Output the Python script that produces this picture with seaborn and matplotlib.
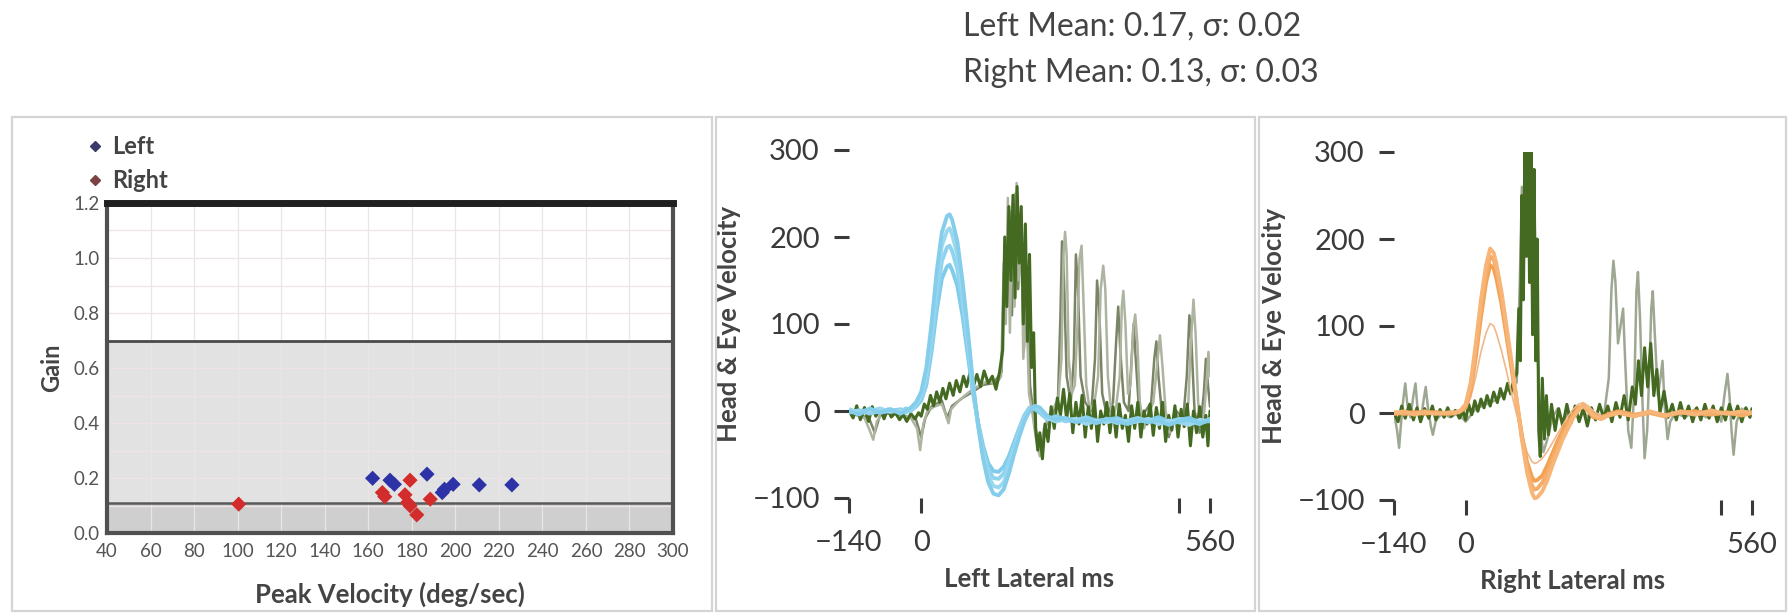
import numpy as np
import pandas as pd
import matplotlib.pyplot as plt
import matplotlib.patches as mpatches
from matplotlib.lines import Line2D
import seaborn as sns

# ---- data ----
# scatter: peak velocity (deg/sec) vs gain
left_vel = [162, 170, 172, 187, 194, 195, 199, 211, 226]
left_gain = [0.199, 0.192, 0.177, 0.214, 0.147, 0.159, 0.177, 0.175, 0.175]
right_vel = [100.5, 166.5, 167.6, 179.2, 176.9, 178.1, 179.2, 182.3, 188.5]
right_gain = [0.105, 0.147, 0.132, 0.192, 0.139, 0.111, 0.099, 0.066, 0.123]

stats_lines = ['Left Mean: 0.17, σ: 0.02', 'Right Mean: 0.13, σ: 0.03']

# left lateral impulses: head velocity (blue), same time base
head_t_left = [-140, -120, -100, -80, -60, -40, -30, -20, -10, 0, 10, 20, 30, 40, 50, 55, 60, 70, 80, 90,
               100, 110, 120, 130, 140, 150, 160, 170, 180, 190, 200, 210, 220, 230, 245, 260, 280, 300, 320,
               340, 360, 380, 400, 420, 440, 460, 480, 500, 520, 540, 560]
head_left_1 = [0, -4, 3, -2, 2, -3, 0, 4, 10, 22, 50, 100, 160, 205, 224, 226, 220, 195, 150, 95, 35, -15, -55,
               -82, -95, -97, -90, -72, -50, -30, -12, 0, 6, 4, -6, -10, -8, -13, -10, -14, -9, -12, -15, -10, -13,
               -11, -16, -12, -10, -14, -11]
head_left_2 = [2, -2, 0, 3, -1, 1, -2, 2, 8, 18, 42, 90, 148, 190, 207, 210, 203, 180, 138, 85, 30, -15, -50,
               -75, -86, -88, -82, -66, -46, -27, -10, 2, 5, 2, -8, -12, -10, -9, -15, -11, -13, -10, -14, -12, -9,
               -15, -11, -13, -16, -10, -12]
head_left_3 = [-2, 1, -3, 0, 2, -1, 3, 0, 6, 15, 35, 78, 130, 172, 188, 190, 184, 163, 125, 76, 26, -14, -45,
               -67, -77, -78, -72, -58, -40, -22, -6, 3, 4, 0, -9, -7, -12, -10, -8, -13, -9, -14, -11, -8, -12,
               -10, -13, -9, -12, -15, -9]
head_left_4 = [1, -1, 2, -2, 0, 2, -1, 1, 5, 12, 30, 68, 115, 152, 166, 168, 162, 144, 110, 66, 22, -12, -40,
               -60, -69, -70, -64, -52, -36, -20, -5, 4, 2, -2, -10, -6, -9, -12, -7, -11, -10, -8, -13, -9, -11,
               -7, -12, -10, -8, -13, -10]

# left lateral: eye velocity (dark green)
eye_left_t = [-140, -132, -125, -118, -110, -102, -95, -88, -80, -72, -65, -58, -50, -42, -35, -28, -20, -12, -5,
              0, 6, 12, 18, 24, 30, 36, 42, 48, 55, 62, 68, 75, 82, 88, 95, 102, 108, 115, 122, 130, 138, 145,
              152, 158, 162, 166, 170, 174, 178, 182, 186, 190, 194, 198, 202, 206, 210, 214, 218, 222, 226, 230,
              235, 240, 246, 252, 258, 264, 270, 276, 282, 288, 294, 300, 306, 312, 318, 324, 330, 336, 342, 348,
              354, 360, 366, 372, 378, 384, 390, 396, 402, 408, 414, 420, 426, 432, 438, 444, 450, 456, 462, 468,
              474, 480, 486, 492, 498, 504, 510, 516, 522, 528, 534, 540, 546, 552, 556, 560]
eye_left_v = [0, -8, 6, -10, 4, -12, 5, -6, 3, -9, 2, -7, -2, -10, -4, -12, -3, -9, -2,
              -6, 8, 2, 18, 6, 22, 10, 26, 14, 32, 18, 35, 22, 40, 28, 45, 30, 42, 28, 46, 32, 40, 25,
              45, 70, 200, 120, 235, 150, 248, 130, 258, 170, 235, 100, 215, 80, 180, 50, 90, -20, -45, -25,
              -55, -15, -35, 5, -20, 15, -5, 25, -10, 20, -25, 10, -15, 18, -30, 5, -20, 12, -35, 0,
              -15, 10, -25, 5, -30, 8, -20, -5, -35, 6, -20, 10, -30, 0, -15, 8, -28, 4, -20, 10,
              -35, -5, -22, 6, -30, 2, -18, 8, -40, 0, -25, 5, -30, -5, -40, 0]

# left lateral: eye velocity of the other impulses (grey olive)
eye_left_g1_t = [-140, -125, -110, -100, -93, -86, -75, -60, -40, -20, -8, -2, 4, 12, 25, 40, 48, 53, 58, 70, 85,
                 100, 115, 130, 145, 155, 160, 164, 168, 172, 177, 181, 185, 189, 194, 198, 204, 209, 215, 222,
                 230, 238, 248, 258, 266, 272, 276, 279, 282, 286, 292, 298, 303, 307, 311, 315, 320, 327, 336,
                 343, 348, 353, 357, 362, 370, 378, 385, 389, 392, 396, 401, 406, 411, 415, 419, 424, 432, 440,
                 450, 457, 463, 468, 474, 482, 490, 500, 510, 518, 523, 528, 532, 537, 543, 549, 554, 557, 560]
eye_left_g1_v = [0, -5, -8, -22, -33, -12, -2, 0, -4, -8, -20, -45, -15, 0, 5, 8, -5, -14, 2, 10, 18,
                 25, 30, 35, 30, 40, 170, 100, 245, 90, 238, 120, 262, 150, 220, 60, 120, 20, 0, -30,
                 -52, -20, -5, 5, 15, 60, 180, 206, 180, 60, 20, 30, 100, 175, 190, 120, 30, 0, 10,
                 40, 140, 167, 140, 40, -10, 5, 40, 120, 138, 100, 20, 30, 95, 111, 80, 10, -20, -5,
                 10, 50, 87, 50, 0, -25, -10, -5, -15, 10, 80, 128, 90, 10, -20, 0, 40, 68, 40]
eye_left_g2_t = [-140, -120, -100, -90, -80, -60, -30, -10, 0, 8, 20, 40, 50, 60, 80, 100, 120, 140, 156, 162,
                 167, 171, 176, 183, 188, 193, 199, 205, 211, 220, 228, 236, 246, 256, 265, 270, 273, 277, 282,
                 290, 296, 300, 304, 309, 318, 330, 337, 341, 345, 351, 360, 372, 378, 382, 386, 393, 402, 408,
                 412, 416, 423, 435, 446, 452, 456, 460, 468, 480, 495, 508, 515, 520, 524, 530, 540, 548, 552,
                 556, 560]
eye_left_g2_v = [2, -3, -10, -25, -5, -2, -6, -10, -30, -8, 5, 12, -8, 6, 15, 22, 30, 32, 45, 190,
                 140, 230, 110, 250, 140, 210, 70, 150, 30, -15, -40, -30, -10, 0, 10, 110, 195, 150, 40,
                 10, 60, 180, 140, 40, 10, 0, 60, 150, 120, 20, -5, 10, 80, 120, 70, 10, 0, 60,
                 100, 60, -5, 0, 10, 60, 80, 40, -10, -30, 0, -10, 40, 110, 80, 0, -25, 20, 60,
                 30, 5]

# right lateral impulses: head velocity (orange)
head_t_right = [-140, -120, -100, -80, -60, -40, -30, -20, -10, 0, 10, 20, 30, 40, 48, 55, 60, 70, 80, 90,
                100, 110, 120, 130, 135, 140, 150, 160, 170, 180, 190, 200, 210, 220, 230, 240, 250, 265, 280,
                300, 330, 360, 390, 420, 450, 480, 510, 540, 560]
head_right_1 = [0, 2, -2, 1, -1, 0, 1, 0, 3, 10, 35, 80, 130, 170, 189, 184, 172, 140, 100, 58, 15, -30, -68,
                -92, -98, -97, -90, -77, -60, -45, -30, -18, -6, 3, 8, 4, -2, -6, -3, 0, -4, 2, -3, 1, -2, 3,
                -1, 2, 0]
head_right_2 = [1, -1, 0, 2, 0, -1, 0, 1, 2, 8, 30, 72, 120, 160, 180, 176, 165, 135, 95, 55, 14, -28, -62,
                -84, -88, -87, -80, -68, -52, -38, -25, -14, -4, 5, 9, 3, -4, -7, -2, 1, -3, 0, -4, 2, 0, -2,
                1, -3, 0]
head_right_3 = [-1, 0, 1, -1, 1, 0, -1, 0, 2, 6, 26, 64, 110, 150, 170, 166, 155, 126, 88, 50, 12, -25, -56,
                -74, -78, -77, -72, -60, -46, -32, -20, -10, -2, 6, 8, 2, -5, -6, -1, 2, -2, 1, -3, 0, 2, -1,
                0, -2, 1]
head_right_4 = [0, 1, -1, 0, 1, 0, 0, 1, 2, 5, 18, 42, 70, 92, 103, 100, 92, 72, 48, 22, -2, -25, -45, -56,
                -58, -57, -52, -44, -34, -24, -14, -4, 4, 10, 12, 8, 2, -3, -1, 1, -2, 0, -1, 1, -2, 0, 1, -1, 0]

# right lateral: eye velocity (dark green)
eye_right_t = [-140, -132, -125, -118, -110, -102, -95, -88, -80, -72, -65, -58, -50, -42, -35, -28, -20, -12,
               -5, 0, 6, 12, 18, 24, 30, 36, 42, 48, 55, 62, 68, 75, 82, 88, 95, 100, 104, 107, 110, 113, 116,
               119, 122, 125, 128, 131, 134, 137, 140, 143, 146, 150, 154, 158, 162, 168, 175, 182, 190, 198,
               206, 214, 222, 230, 238, 246, 254, 262, 270, 278, 286, 294, 302, 310, 318, 326, 332, 338, 344,
               350, 356, 362, 368, 374, 380, 388, 396, 404, 412, 420, 428, 436, 444, 452, 460, 468, 476, 484,
               492, 500, 508, 516, 524, 532, 540, 548, 556, 560]
eye_right_v = [0, -10, 8, -6, 10, -8, 6, -10, 5, -6, 8, -8, 4, -5, 6, -4, 3, -6,
               2, -8, 10, -2, 14, 2, 16, 6, 20, 8, 24, 12, 28, 16, 34, 22, 40, 45, 120, 60, 250, 130, 320,
               180, 330, 150, 310, 90, 280, 60, 200, -20, -50, 40, -30, 20, -25, 10, -20, 5, -15, 10,
               -12, 8, -10, 5, -15, 6, -8, 10, -6, 8, -10, 12, -5, 20, -8, 30, 10, 60, 20,
               75, 30, 80, 20, 50, 0, 25, -5, 10, -8, 12, -6, 8, -10, 6, -8, 10, -6, 8,
               -10, 6, -8, 10, -6, 8, -10, 6, -5, 5]
eye_right_g_t = [-140, -134, -130, -126, -122, -118, -114, -108, -102, -98, -94, -88, -82, -78, -74, -68, -64,
                 -58, -45, -30, -15, 0, 20, 40, 60, 80, 100, 106, 110, 114, 118, 122, 126, 130, 134, 138, 142,
                 146, 152, 160, 170, 180, 190, 200, 210, 225, 240, 255, 270, 280, 285, 289, 293, 298, 303, 308,
                 312, 318, 324, 330, 334, 337, 341, 346, 350, 355, 360, 363, 366, 370, 376, 381, 385, 389, 395,
                 400, 410, 430, 450, 470, 490, 500, 506, 512, 516, 520, 524, 530, 540, 550, 560]
eye_right_g_v = [0, -20, -40, -10, 15, 34, 10, -5, 20, 34, 5, -10, 15, 30, 8, -15, -25,
                 -8, 0, -5, 0, -10, 5, 10, 15, 25, 35, 150, 260, 200, 310, 250, 320, 220, 260, 120, 50,
                 -20, -45, -30, -5, 5, -10, 0, -5, 5, -5, 0, -5, 40, 140, 175, 150, 80, 100, 120,
                 60, -20, -40, 30, 140, 162, 110, 10, -52, -20, 60, 120, 140, 90, 20, 40, 60, 10, -30,
                 -10, 0, -5, 5, -5, 0, -10, 20, 45, 20, -20, -48, -10, 5, 0, 0]

# ---- styling ----
sns.set_theme(style='white')
plt.rcParams['font.family'] = ['Lato', 'DejaVu Sans']

W, H = 1791, 614
fig = plt.figure(figsize=(W / 100, H / 100), dpi=100)


def fig_rect(x0, y0, x1, y1):
    # pixel box -> figure fraction [left, bottom, width, height]
    return [x0 / W, 1 - y1 / H, (x1 - x0) / W, (y1 - y0) / H]


# panel frames
for x0, x1 in [(12, 712), (716, 1255), (1259, 1786)]:
    fig.patches.append(mpatches.Rectangle((x0 / W, 1 - 611 / H), (x1 - x0) / W, (611 - 117) / H,
                                          transform=fig.transFigure, fill=False,
                                          edgecolor='#d4d4d4', lw=1.6))

# ---- left panel: gain scatter ----
ax1 = fig.add_axes(fig_rect(107, 203, 673, 533))
ax1.axhspan(0, 0.11, color='#cfcfcf', zorder=0.2, lw=0)
ax1.axhspan(0.11, 0.7, color='#e2e2e2', zorder=0.2, lw=0)
ax1.axhline(0.7, color='#4a4a4a', lw=2, zorder=1)
ax1.axhline(0.11, color='#5a5a5a', lw=1.8, zorder=1)

scat = pd.DataFrame({
    'vel': left_vel + right_vel,
    'gain': left_gain + right_gain,
    'side': ['Left'] * len(left_vel) + ['Right'] * len(right_vel),
})
sns.scatterplot(data=scat, x='vel', y='gain', hue='side', marker='D', s=60,
                palette={'Left': '#2d32a6', 'Right': '#d22c2c'}, edgecolor='none',
                legend=False, ax=ax1, zorder=3)

ax1.set_xlim(40, 300)
ax1.set_ylim(0, 1.2)
ax1.set_xticks(range(40, 301, 20))
ax1.set_yticks([0, 0.2, 0.4, 0.6, 0.8, 1.0, 1.2])
ax1.set_yticks(np.arange(0.1, 1.2, 0.2), minor=True)
ax1.set_yticklabels(['0.0', '0.2', '0.4', '0.6', '0.8', '1.0', '1.2'])
ax1.grid(True, which='both', color='#eee4e4', lw=0.9, zorder=0.5)
ax1.tick_params(axis='both', which='both', length=0, labelsize=13.5, labelcolor='#555555')
ax1.tick_params(axis='x', pad=7)
ax1.tick_params(axis='y', pad=5)
for side in ['left', 'right', 'bottom']:
    ax1.spines[side].set_color('#505050')
    ax1.spines[side].set_linewidth(3)
ax1.spines['top'].set_color('#202020')
ax1.spines['top'].set_linewidth(5)
ax1.set_xlabel('Peak Velocity (deg/sec)', fontsize=18.5, fontweight='bold', color='#444444', labelpad=16)
ax1.set_ylabel('Gain', fontsize=17, fontweight='bold', color='#444444', labelpad=8)

handles = [Line2D([], [], marker='D', ls='none', markersize=5, color='#3a3a6a', label='Left'),
           Line2D([], [], marker='D', ls='none', markersize=5, color='#7a4242', label='Right')]
fig.legend(handles=handles, loc='upper left', bbox_to_anchor=(74 / W, 1 - 126 / H), frameon=False,
           handletextpad=0.2, labelspacing=0.45, handlelength=1.0,
           prop={'weight': 'bold', 'size': 17}, labelcolor='#444444', borderaxespad=0)

# ---- trace panels ----
BLUE = ['#7fcbea', '#8fd3ef', '#9bd8f0', '#84cdeb']
ORANGE = ['#f3a254', '#f5ac66', '#f7b678']


def trace(ax, t, v, color, lw, z):
    sns.lineplot(x=t, y=v, color=color, lw=lw, ax=ax, estimator=None, sort=False, zorder=z)


def style_trace_axes(ax, xlabel):
    ax.set_xlim(-140, 560)
    ax.set_ylim(-100, 300)
    ax.set_xticks([-140, 0, 500, 560])
    ax.set_xticklabels(['\u2212140', '0', '', '560'])
    ax.set_yticks([-100, 0, 100, 200, 300])
    ax.set_yticklabels(['\u2212100', '0', '100', '200', '300'])
    for s in ax.spines.values():
        s.set_visible(False)
    ax.tick_params(axis='both', direction='out', length=11, width=2.2, color='#3a3a3a',
                   labelsize=21, labelcolor='#3a3a3a', left=True, bottom=True)
    ax.tick_params(axis='y', pad=10)
    ax.tick_params(axis='x', pad=12)
    ax.set_xlabel(xlabel, fontsize=18.5, fontweight='bold', color='#444444', labelpad=8)
    ax.set_ylabel('Head & Eye Velocity', fontsize=18.5, fontweight='bold', color='#444444', labelpad=8)


ax2 = fig.add_axes(fig_rect(849, 150, 1210, 498))
trace(ax2, eye_left_g2_t, eye_left_g2_v, '#7a8566', 1.8, 2)
trace(ax2, eye_left_g1_t, eye_left_g1_v, '#adb4a0', 1.8, 2)
trace(ax2, eye_left_t, eye_left_v, '#446a21', 2.2, 3)
for vals, c in zip([head_left_4, head_left_3, head_left_2, head_left_1], BLUE):
    trace(ax2, head_t_left, vals, c, 2.8, 4)
style_trace_axes(ax2, 'Left Lateral ms')

ax3 = fig.add_axes(fig_rect(1394, 152, 1752, 500))
trace(ax3, eye_right_g_t, eye_right_g_v, '#9ea792', 1.8, 2)
trace(ax3, eye_right_t, eye_right_v, '#446a21', 2.2, 3)
trace(ax3, head_t_right, head_right_4, '#f0b88a', 1.2, 4)
for vals, c in zip([head_right_3, head_right_2, head_right_1], ORANGE):
    trace(ax3, head_t_right, vals, c, 2.8, 4)
style_trace_axes(ax3, 'Right Lateral ms')

# ---- summary text ----
fig.text(963 / W, 1 - 27 / H, stats_lines[0], ha='left', va='center', fontsize=23, color='#444444')
fig.text(963 / W, 1 - 73 / H, stats_lines[1], ha='left', va='center', fontsize=23, color='#444444')

fig.savefig('out.png', dpi=100, facecolor='white')
